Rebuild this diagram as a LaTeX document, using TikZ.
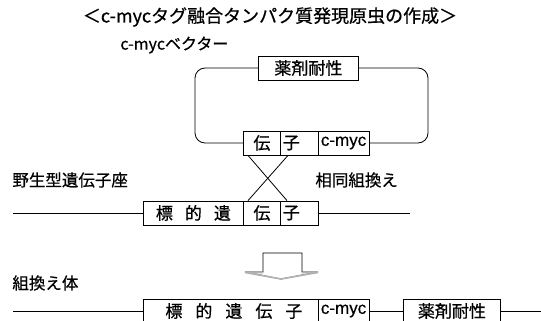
\documentclass[tikz,border=0pt]{standalone}
\usepackage{fontspec}
\setmainfont{Liberation Sans}
\newfontfamily\jp[FakeBold=0.6]{Noto Sans CJK JP}
\newfontfamily\lat[FakeBold=0.4]{Liberation Sans}
\usetikzlibrary{calc}
\begin{document}
\begin{tikzpicture}[x=1pt,y=-1pt,line width=0.8pt,
  seg/.style={draw,fill=white,minimum height=24pt,inner sep=0pt,anchor=west,
    font=\jp\fontsize{17}{17}\selectfont},
  lcell/.style={seg,align=left,inner xsep=2.5pt},
  lbl/.style={anchor=west,inner sep=0pt,font=\jp\fontsize{16.5}{16.5}\selectfont},
  ttl/.style={inner sep=0pt,font=\jp\fontsize{18}{18}\selectfont}]
\useasboundingbox (0,0) rectangle (541,321);
\clip (0,0) rectangle (541,321);
% title and labels
\node[ttl] (title) at (270,17) {＜c-mycタグ融合タンパク質発現原虫の作成＞};
\node[lbl,font=\jp\fontsize{16}{16}\selectfont] (vlab) at (120,45) {c-mycベクター};
\node[lbl] (wlab) at (12,180) {野生型遺伝子座};
\node[lbl] (hlab) at (315,180) {相同組換え};
\node[lbl] (rlab) at (12,283) {組換え体};
% vector loop
\draw[rounded corners=10pt] (195,68) rectangle (428,143);
\node[seg,minimum width=100pt] (vdrug) at (258,68) {薬剤耐性};
\node[seg,minimum width=37pt] (vden) at (243,143) {伝};
\node[lcell,text width=33pt] (vko) at (280,143) {子};
\node[lcell,text width=46pt] (vmyc) at (318,143) {\mbox{\lat c-myc}};
% wild type locus
\coordinate (wl) at (13,213);
\coordinate (wr) at (410,213);
\node[seg,minimum width=100pt] (whyo) at (143,213) {標\hspace{12pt}的\hspace{12pt}遺};
\node[seg,minimum width=37pt] (wden) at (243,213) {伝};
\node[lcell,text width=33pt] (wko) at (280,213) {子};
\draw (wl) -- (whyo.west);
\draw (wko.east) -- (wr);
% crossover
\draw ($(vden.south west)+(5,0)$) -- ($(wko.north west)+(7,0)$);
\draw ($(vko.south west)+(8,0)$) -- ($(wden.north west)+(5,0)$);
% hollow arrow
\draw[fill=white] (263,253) -- (302,253) -- (302,272) -- (318,272) -- (281,279) -- (245,272) -- (263,272) -- cycle;
\draw[gray!60,line width=1.6pt] (302,272.5) -- (318,272.5) -- (281,279) -- (245,272.5) -- (263,272.5);
% recombinant
\coordinate (bl) at (13,311);
\coordinate (br) at (545,311);
\node[seg,minimum width=175pt] (bgene) at (143,311) {\hspace{6pt}標\hspace{13pt}的\hspace{13pt}遺\hspace{13pt}伝\hspace{13pt}子};
\node[lcell,text width=46pt] (bmyc) at (318,311) {\mbox{\lat c-myc}};
\node[seg,minimum width=97pt] (bdrug) at (403,311) {薬剤耐性};
\draw (bl) -- (bgene.west);
\draw (bmyc.east) -- (bdrug.west);
\draw (bdrug.east) -- (br);
\end{tikzpicture}
\end{document}
